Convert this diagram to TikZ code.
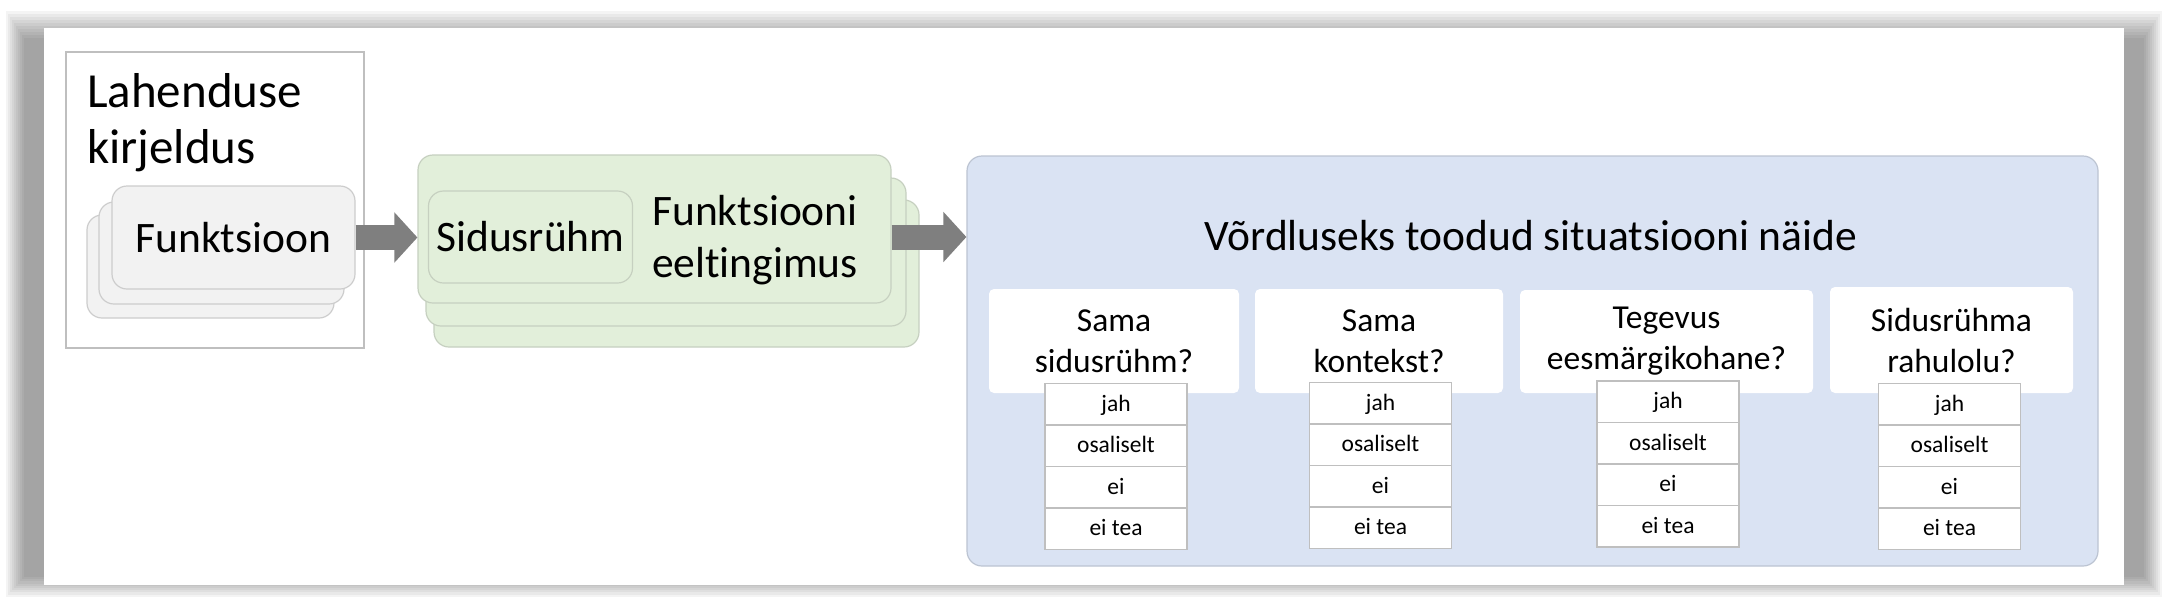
\documentclass[tikz,border=0pt]{standalone}
\usepackage{fontspec}
\setmainfont{Carlito}[Ligatures=NoCommon]
\usepackage{tikz}
\usetikzlibrary{positioning}
\usetikzlibrary{matrix}
\usetikzlibrary{arrows.meta}
\definecolor{arrowgray}{HTML}{7F7F7F}
\definecolor{lahline}{HTML}{BFBFBF}
\definecolor{funfill}{HTML}{F2F2F2}
\definecolor{funline}{HTML}{CDCDCD}
\definecolor{prefill}{HTML}{E2EFDA}
\definecolor{preline}{HTML}{C6D0C0}
\definecolor{cmpfill}{HTML}{DAE3F3}
\definecolor{cmpline}{HTML}{BCC4D2}
\definecolor{optline}{HTML}{BFBFBF}

\begin{document}
\begin{tikzpicture}[x=1pt, y=-1pt,
funbox/.style={draw=funline, fill=funfill, line width=1.2pt, rounded corners=15pt},
prebox/.style={draw=preline, fill=prefill, line width=1.2pt, rounded corners=15pt},
qbox/.style={fill=white, rounded corners=5pt, align=center, font=\fontsize{33.5}{41}\selectfont},
arrowline/.style={draw=arrowgray, line width=25pt, -{Triangle[length=23pt, width=49pt]}},
optlist/.style={matrix of nodes, row sep=-1.5pt,
nodes={draw=optline, fill=white, line width=1.5pt, inner sep=0pt,
minimum width=142pt, minimum height=41.5pt, text height=17pt, text depth=3pt,
font=\fontsize{23.5}{28}\selectfont}}]
\useasboundingbox (0,0) rectangle (2168,614);
\foreach \i in {0,...,9}
  \fill[black, opacity=0.045] (24-2*\i,38-3*\i) rectangle (2144+2*\i,577+2.2*\i);
\fill[white] (44,28) rectangle (2124,585);

\node (lah) [draw=lahline, line width=2.5pt, minimum width=298pt, minimum height=296pt] at (215,200) {};
\node (lahtxt) [anchor=north west, inner sep=0pt, align=left, font=\fontsize{49}{56}\selectfont] at (87,73) {Lahenduse\\kirjeldus};
\node (fun3) [funbox, minimum width=247pt, minimum height=103pt] at (210.5,266.5) {};
\node (fun2) [funbox, minimum width=245pt, minimum height=102pt] at (221.5,253) {};
\node (fun1) [funbox, minimum width=243pt, minimum height=103pt, font=\fontsize{43.5}{52}\selectfont] at (233.5,237.5) {Funktsioon};

\node (pre3) [prebox, minimum width=485pt, minimum height=147pt] at (676.5,273.5) {};
\node (pre2) [prebox, minimum width=480pt, minimum height=148pt] at (666,252) {};
\node (pre1) [prebox, minimum width=473pt, minimum height=148pt] at (654.5,229) {};
\node (sid) [prebox, minimum width=204pt, minimum height=92pt, font=\fontsize{43.5}{52}\selectfont] at (530.5,237) {Sidusrühm};
\node (eel) [align=center, font=\fontsize{43.5}{52}\selectfont] at (755,240) {Funktsiooni\\eeltingimus};

\node (cmp) [draw=cmpline, fill=cmpfill, line width=1.2pt, rounded corners=15pt, minimum width=1131pt, minimum height=410pt] at (1532.5,361) {};
\node (cmptitle) [anchor=base, font=\fontsize{43.5}{52}\selectfont] at (1531,250) {Võrdluseks toodud situatsiooni näide};

\node (q1) [qbox, minimum width=250pt, minimum height=104pt] at (1114,341) {Sama\\sidusrühm?};
\node (q2) [qbox, minimum width=248pt, minimum height=104pt] at (1379,341) {Sama\\kontekst?};
\node (q3) [qbox, minimum width=293pt, minimum height=103pt] at (1666.5,341.5) {Tegevus\\eesmärgikohane?};
\node (q4) [qbox, minimum width=243pt, minimum height=106pt] at (1951.5,340) {Sidusrühma\\rahulolu?};

\matrix (opt1) [optlist] at (1116,466.5)
{
|(o1a)|jah \\
|(o1b)|osaliselt \\
|(o1c)|ei \\
|(o1d)|ei tea \\
};
\matrix (opt2) [optlist] at (1380.5,465.5)
{
|(o2a)|jah \\
|(o2b)|osaliselt \\
|(o2c)|ei \\
|(o2d)|ei tea \\
};
\matrix (opt3) [optlist] at (1668,464)
{
|(o3a)|jah \\
|(o3b)|osaliselt \\
|(o3c)|ei \\
|(o3d)|ei tea \\
};
\matrix (opt4) [optlist] at (1949.5,466.5)
{
|(o4a)|jah \\
|(o4b)|osaliselt \\
|(o4c)|ei \\
|(o4d)|ei tea \\
};

\draw[arrowline] (fun1.east) -- (fun1.east -| pre1.west);
\draw[arrowline] (sid.east -| pre1.east) -- (sid.east -| cmp.west);
\end{tikzpicture}
\end{document}
